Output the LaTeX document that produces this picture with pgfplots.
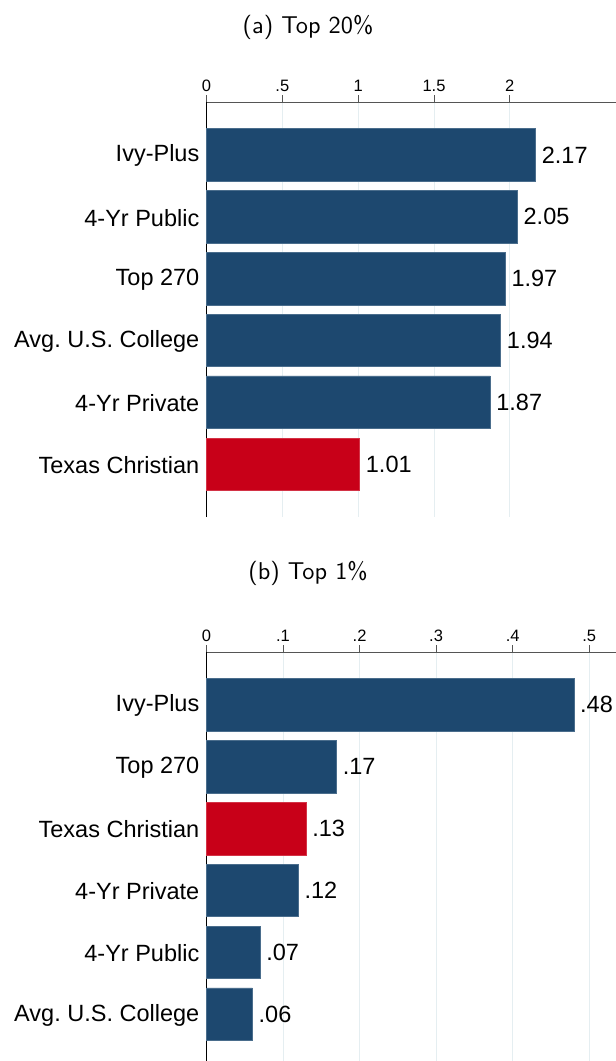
\documentclass[border=0pt]{standalone}
\usepackage{fontspec}
\setmainfont{Liberation Sans}
\newfontfamily\titlefont{lmsans10-regular}[Extension=.otf]
\usepackage{pgfplots}
\pgfplotsset{compat=1.18}

\definecolor{barblue}{RGB}{29,72,111}
\definecolor{barred}{RGB}{200,0,24}
\definecolor{gridc}{RGB}{229,238,241}
\definecolor{axgray}{RGB}{85,85,85}

% one panel of the chart: horizontal bars, axis on top
\pgfplotsset{panel/.style={
  scale only axis, width=409.5pt, height=415pt,
  ymin=0.145, ymax=6.855, ytick={1,...,6},
  axis x line*=top, axis y line*=left,
  x axis line style={axgray, line width=0.8pt},
  y axis line style={black, line width=1pt},
  tick align=outside, major tick length=7pt,
  xtick style={axgray, line width=0.8pt},
  ytick style={draw=none},
  xmajorgrids, grid style={gridc, line width=1pt},
  xticklabel style={font=\fontsize{16.5}{18}\selectfont},
  yticklabel style={font=\fontsize{23.5}{26}\selectfont, inner sep=0pt, yshift=-1pt},
  xbar, bar width=0.85, xmin=0, clip=false,
  nodes near coords={\pgfmathprintnumber[fixed,fixed zerofill,precision=2,skip 0.=true,assume math mode=true]{\pgfplotspointmeta}},
  every node near coord/.append style={font=\fontsize{23.5}{26}\selectfont, inner sep=0pt, xshift=6pt, black},
}}

\begin{document}
\begin{tikzpicture}
\node[font=\titlefont\fontsize{24.3}{28}\selectfont] at (308pt,-27pt) {(a) Top 20\%};
\node[font=\titlefont\fontsize{24.3}{28}\selectfont] at (308pt,-573pt) {(b) Top 1\%};

% (a) Top 20%
\begin{axis}[panel, at={(206.5pt,-102pt)}, anchor=north west,
  xmax=2.7, xtick={0,0.5,1,1.5,2}, xticklabels={0,.5,1,1.5,2},
  yticklabels={Texas Christian, 4-Yr Private, Avg.\ U.S. College, Top 270, 4-Yr Public, Ivy-Plus}]
\addplot[bar shift=0pt, fill=barblue, draw=barblue!80!white, line width=0.5pt] coordinates {
  (2.17,6) (2.05,5) (1.97,4) (1.94,3) (1.87,2)
};
\addplot[bar shift=0pt, fill=barred, draw=barred!80!white, line width=0.5pt] coordinates {
  (1.01,1)
};
\end{axis}

% (b) Top 1%
\begin{axis}[panel, at={(206.5pt,-652pt)}, anchor=north west,
  xmax=0.535, xtick={0,0.1,0.2,0.3,0.4,0.5}, xticklabels={0,.1,.2,.3,.4,.5},
  yticklabels={Avg.\ U.S. College, 4-Yr Public, 4-Yr Private, Texas Christian, Top 270, Ivy-Plus}]
\addplot[bar shift=0pt, fill=barblue, draw=barblue!80!white, line width=0.5pt] coordinates {
  (0.48,6) (0.17,5) (0.12,3) (0.07,2) (0.06,1)
};
\addplot[bar shift=0pt, fill=barred, draw=barred!80!white, line width=0.5pt] coordinates {
  (0.13,4)
};
\end{axis}

\pgfresetboundingbox
\useasboundingbox (0,0) rectangle (616pt,-1061pt);
\end{tikzpicture}
\end{document}
